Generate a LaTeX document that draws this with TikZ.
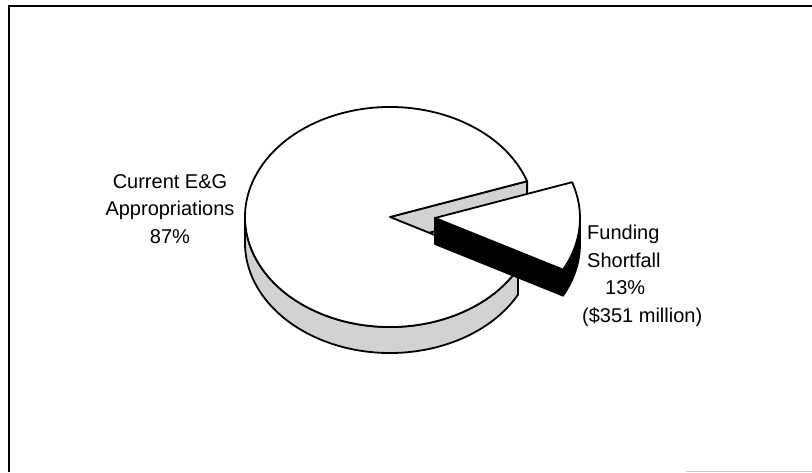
\documentclass[tikz,border=0pt]{standalone}
\usepackage{fontspec}
\setmainfont{Liberation Sans}
\begin{document}
\begin{tikzpicture}[x=1pt,y=1pt,
		rim/.style={draw=black, line width=1.8pt, line join=round},
		sideface/.style={rim, fill=gray!35},
		darkface/.style={rim, fill=black},
		topface/.style={rim, fill=white},
		lbl/.style={font=\fontsize{20}{27.5}\selectfont, inner sep=0pt}]
		\useasboundingbox (0,0) rectangle (812,472);
		
		% Marco
		\draw[line width=2pt] (9,0) -- (9,466) -- (812,466);
		\draw[gray!40, line width=1pt] (686,1) -- (812,1);
		
		% Centros de la tarta y de la porción separada
		\coordinate (c) at (390,255);
		\coordinate (w) at (435,254);
		
		% Lado de la tarta principal
		\draw[sideface] (c) ++(180:145 and 110) arc[start angle=180, end angle=332, x radius=145, y radius=110]
			-- ++(0,-26) arc[start angle=332, end angle=180, x radius=145, y radius=110] -- cycle;
		% Cara del corte superior
		\draw[sideface] (c) -- ++(19:145 and 110) -- ++(0,-26) -- ([yshift=-26pt]c) -- cycle;
		% Cara superior
		\draw[topface] (c) -- ++(19:145 and 110) arc[start angle=19, end angle=332, x radius=145, y radius=110] -- cycle;
		
		% Porción separada (13%)
		\draw[darkface] (w) -- ++(-28:145 and 110) -- ++(0,-26) -- ([yshift=-26pt]w) -- cycle;
		\draw[darkface] (w) ++(-28:145 and 110) arc[start angle=-28, end angle=0, x radius=145, y radius=110]
			-- ++(0,-26) arc[start angle=0, end angle=-28, x radius=145, y radius=110] -- cycle;
		\draw[topface] (w) -- ++(-28:145 and 110) arc[start angle=-28, end angle=19, x radius=145, y radius=110] -- cycle;
		
		% Etiquetas
		\node[lbl, align=center, anchor=north] (appr) at (170,298) {Current E\&G\\Appropriations\\87\%};
		\node[lbl, align=left, anchor=north west] (short) at (582,247)
			{\hspace*{5pt}Funding\\\hspace*{5pt}Shortfall\\\hspace*{23pt}13\%\\(\$351 million)};
	\end{tikzpicture}
\end{document}
